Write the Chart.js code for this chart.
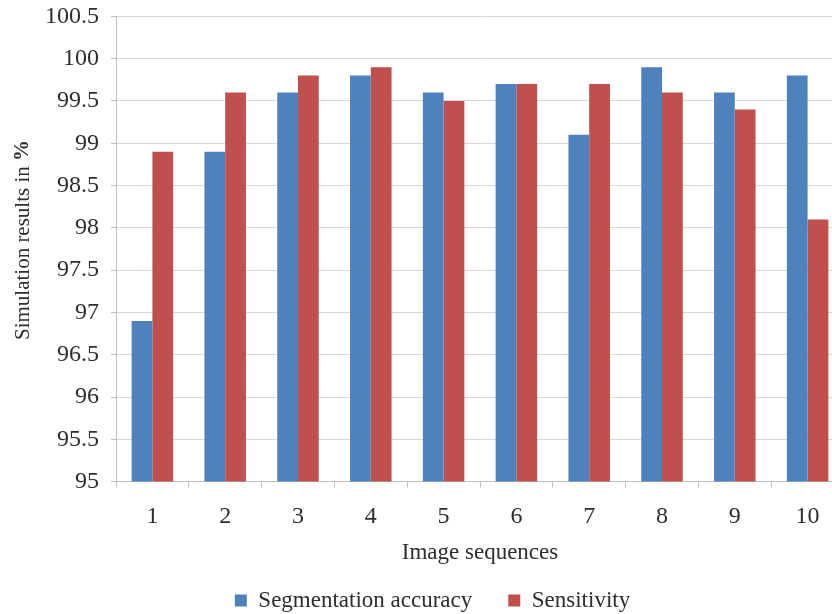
<!DOCTYPE html>
<html>
<head>
<meta charset="utf-8">
<script src="https://cdn.jsdelivr.net/npm/chart.js@4.4.0/dist/chart.umd.min.js"></script>
<style>
  html, body { margin: 0; padding: 0; background: #fff; overflow: hidden; }
  #wrap { width: 846px; height: 632px; position: relative; top: -10px; }
</style>
</head>
<body>
<div id="wrap"><canvas id="chart"></canvas></div>
<script>
// values
var categories = ['1', '2', '3', '4', '5', '6', '7', '8', '9', '10'];
var segmentationAccuracy = [96.9, 98.9, 99.6, 99.8, 99.6, 99.7, 99.1, 99.9, 99.6, 99.8];
var sensitivity = [98.9, 99.6, 99.8, 99.9, 99.5, 99.7, 99.7, 99.6, 99.4, 98.1];
var yMin = 95, yMax = 100.5, yStep = 0.5;

var serif = '"Liberation Serif", "Times New Roman", serif';
var textColor = '#2e2e2e';

// y title with a bold "%" like the original
var yTitlePlugin = {
    id: 'yTitle',
    afterDraw: function (chart) {
        var ctx = chart.ctx;
        var plain = 'Simulation results in ';
        var bold = '%';
        ctx.save();
        ctx.font = '21px ' + serif;
        var w1 = ctx.measureText(plain).width;
        ctx.font = 'bold 21px ' + serif;
        var w2 = ctx.measureText(bold).width;
        ctx.translate(23, 250);
        ctx.rotate(-Math.PI / 2);
        ctx.fillStyle = textColor;
        ctx.textBaseline = 'middle';
        ctx.textAlign = 'left';
        var start = -(w1 + w2) / 2;
        ctx.font = '21px ' + serif;
        ctx.fillText(plain, start, 0);
        ctx.font = 'bold 21px ' + serif;
        ctx.fillText(bold, start + w1, 0);
        ctx.restore();
    }
};

var ctx = document.getElementById('chart').getContext('2d');
new Chart(ctx, {
    type: 'bar',
    data: {
        labels: categories,
        datasets: [{
            label: 'Segmentation accuracy',
            data: segmentationAccuracy,
            backgroundColor: '#4f81bd',
            borderWidth: 0
        }, {
            label: 'Sensitivity',
            data: sensitivity,
            backgroundColor: '#c0504d',
            borderWidth: 0
        }]
    },
    options: {
        responsive: true,
        maintainAspectRatio: false,
        animation: false,
        layout: { padding: { left: 21, top: 0, right: 2, bottom: 0 } },
        datasets: { bar: { categoryPercentage: 0.57, barPercentage: 1.0 } },
        plugins: {
            legend: {
                position: 'bottom',
                labels: {
                    font: { family: serif, size: 23 },
                    color: textColor,
                    boxWidth: 12,
                    boxHeight: 12,
                    padding: 36
                }
            },
            tooltip: { enabled: false }
        },
        scales: {
            x: {
                grid: {
                    display: true,
                    drawOnChartArea: false,
                    drawTicks: true,
                    tickLength: 6,
                    offset: true,
                    color: '#bfbfbf'
                },
                border: { color: '#bfbfbf' },
                ticks: {
                    font: { family: serif, size: 24 },
                    color: textColor,
                    padding: 15
                },
                title: {
                    display: true,
                    text: 'Image sequences',
                    font: { family: serif, size: 23 },
                    color: textColor,
                    padding: { top: -7, bottom: -14 }
                }
            },
            y: {
                min: yMin,
                max: yMax,
                afterFit: function (scale) { scale.width += 12; },
                ticks: {
                    stepSize: yStep,
                    font: { family: serif, size: 24 },
                    color: textColor,
                    padding: 12,
                    callback: function (v) { return String(Math.round(v * 10) / 10); }
                },
                grid: {
                    color: '#d9d9d9',
                    tickLength: 5,
                    tickColor: '#bfbfbf'
                },
                border: { color: '#bfbfbf' }
            }
        }
    },
    plugins: [yTitlePlugin]
});
</script>
</body>
</html>
